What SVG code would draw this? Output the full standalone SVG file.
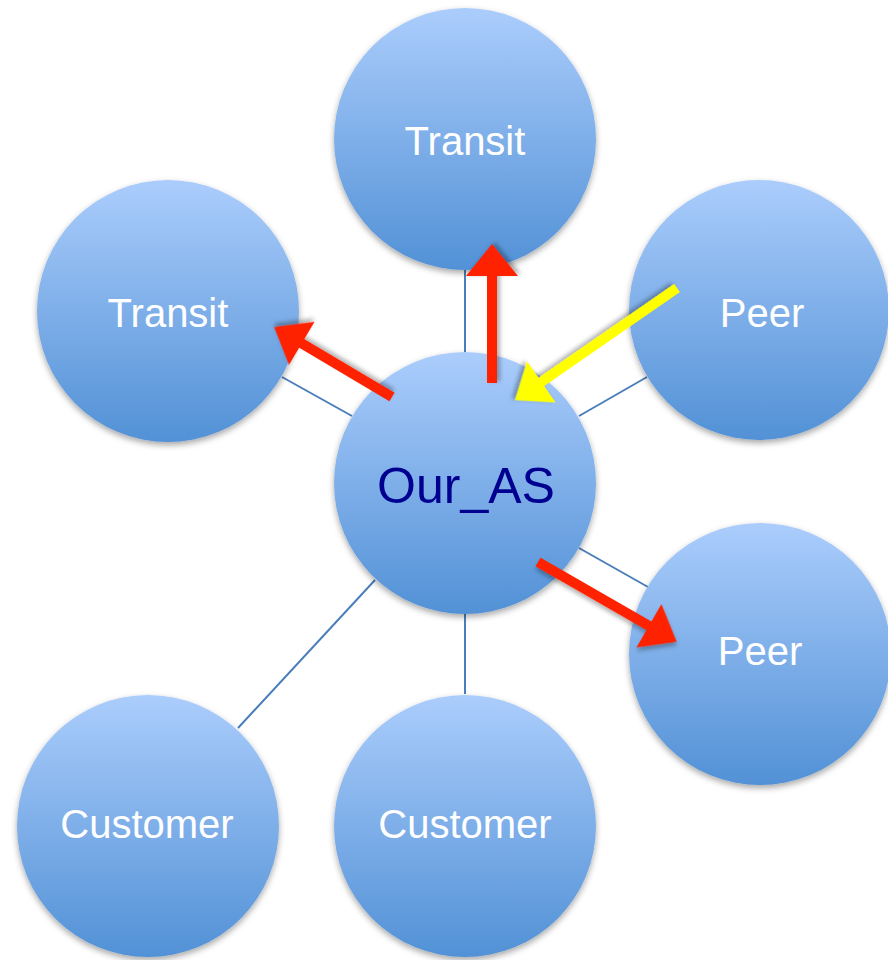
<svg xmlns="http://www.w3.org/2000/svg" width="888" height="960" viewBox="0 0 888 960">
<style>
.node circle{fill:url(#g);filter:url(#sh)}
.lbl{font-family:"Liberation Sans",Arial,sans-serif;font-size:40px;fill:#ffffff;text-anchor:middle}
.main{font-size:50px;fill:#000090}
.conn line{stroke:#4a7ebb;stroke-width:2}
.red{fill:#ff2200;filter:url(#ash)}
.yel{fill:#ffff00;filter:url(#ash)}
</style>
<defs>
<linearGradient id="g" x1="0" y1="0" x2="0" y2="1">
<stop offset="0" stop-color="#abcdfc"/>
<stop offset="1" stop-color="#5291d6"/>
</linearGradient>
<filter id="sh" x="-20%" y="-20%" width="140%" height="140%">
<feDropShadow dx="0" dy="3" stdDeviation="3" flood-color="#000" flood-opacity="0.35"/>
</filter>
<filter id="ash" x="-20%" y="-50%" width="140%" height="200%">
<feDropShadow dx="2" dy="3" stdDeviation="2" flood-color="#000" flood-opacity="0.3"/>
</filter>
</defs>
<rect width="888" height="960" fill="#ffffff"/>
<g id="connectors" class="conn">
<line x1="465" y1="268" x2="465" y2="354"/>
<line x1="282" y1="377" x2="352" y2="416"/>
<line x1="647" y1="377" x2="579" y2="416"/>
<line x1="579" y1="548" x2="648" y2="587"/>
<line x1="375" y1="580" x2="238" y2="728"/>
<line x1="465" y1="612" x2="465" y2="694"/>
</g>
<g id="transit-top" class="node"><circle cx="465" cy="139" r="131"/><text class="lbl" x="465" y="155">Transit</text></g>
<g id="transit-left" class="node"><circle cx="168" cy="311" r="131"/><text class="lbl" x="168" y="327">Transit</text></g>
<g id="peer-top" class="node"><circle cx="759" cy="310" r="130"/><text class="lbl" x="762" y="327">Peer</text></g>
<g id="peer-bottom" class="node"><circle cx="760" cy="654" r="131"/><text class="lbl" x="760" y="665">Peer</text></g>
<g id="customer-left" class="node"><circle cx="148" cy="826" r="131"/><text class="lbl" x="147" y="838">Customer</text></g>
<g id="customer-center" class="node"><circle cx="465" cy="826" r="131"/><text class="lbl" x="465" y="838">Customer</text></g>
<g id="our-as" class="node"><circle cx="465" cy="483" r="131"/><text class="lbl main" x="466" y="503">Our_AS</text></g>
<g id="arrows">
<polygon class="red" transform="translate(492,383) rotate(-90)" points="0,-5 107,-5 107,-26 139,0 107,26 107,5 0,5"/>
<polygon class="red" transform="translate(392,397) rotate(210.7)" points="0,-5 105,-5 105,-25 137,0 105,25 105,5 0,5"/>
<polygon class="yel" transform="translate(677,288) rotate(145.3)" points="0,-5 165,-5 165,-25 197,0 165,25 165,5 0,5"/>
<polygon class="red" transform="translate(538,562) rotate(29.9)" points="0,-5 128,-5 128,-25 160,0 128,25 128,5 0,5"/>
</g>
</svg>
